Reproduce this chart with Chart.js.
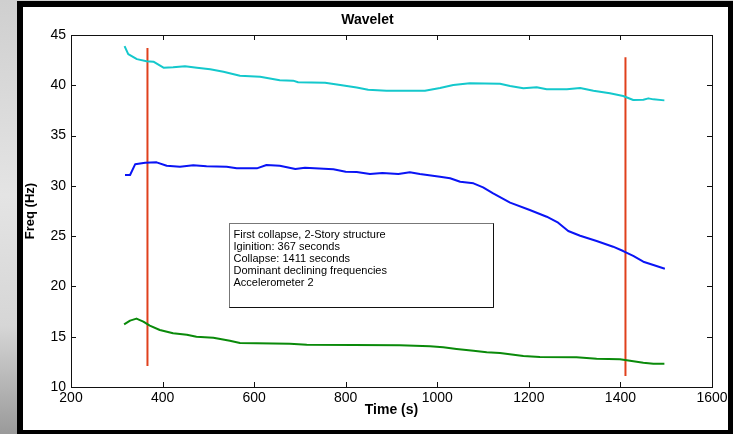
<!DOCTYPE html>
<html>
<head>
<meta charset="utf-8">
<script src="https://cdn.jsdelivr.net/npm/chart.js@4/dist/chart.umd.min.js"></script>
<style>
    html, body { margin: 0; padding: 0; width: 733px; height: 434px; overflow: hidden; }
    body { background: linear-gradient(180deg, #cfcfcf 0%, #e4e4e4 45%, #d6d6d6 75%, #9a9a9a 100%); }
    #frame { position: absolute; left: 17px; top: 1px; width: 716px; height: 433px; background: #000; }
    #paper { position: absolute; left: 23px; top: 7px; width: 705px; height: 423px; background: #fff; }
    #wrap { position: absolute; left: 0; top: 0; width: 733px; height: 434px; }
</style>
</head>
<body>
<div id="frame"></div>
<div id="paper"></div>
<div id="wrap"><canvas id="myChart" width="733" height="434"></canvas></div>
<script>
// values
const cyanTime = [317, 325, 344, 365, 380, 402, 423, 449, 475, 504, 533, 569, 613, 656, 685, 696, 755, 788, 824, 849, 889, 973, 1006, 1035, 1071, 1137, 1159, 1188, 1217, 1239, 1283, 1312, 1341, 1377, 1406, 1428, 1450, 1461, 1472, 1496];
const cyanFreq = [43.9, 43.1, 42.6, 42.4, 42.35, 41.75, 41.8, 41.9, 41.75, 41.6, 41.35, 40.95, 40.85, 40.5, 40.46, 40.3, 40.26, 40.03, 39.77, 39.56, 39.46, 39.46, 39.73, 40.03, 40.2, 40.15, 39.93, 39.7, 39.8, 39.6, 39.6, 39.73, 39.46, 39.2, 38.93, 38.54, 38.57, 38.7, 38.6, 38.5];

const blueTime = [318, 329, 340, 362, 387, 409, 438, 467, 496, 540, 562, 606, 627, 656, 690, 711, 773, 800, 824, 853, 880, 915, 940, 962, 1006, 1028, 1050, 1079, 1100, 1122, 1159, 1202, 1239, 1264, 1286, 1312, 1348, 1384, 1406, 1428, 1450, 1472, 1497];
const blueFreq = [31.08, 31.08, 32.14, 32.3, 32.34, 32.0, 31.9, 32.04, 31.94, 31.9, 31.74, 31.74, 32.07, 32.0, 31.68, 31.79, 31.65, 31.41, 31.38, 31.18, 31.28, 31.18, 31.35, 31.18, 30.91, 30.75, 30.41, 30.25, 29.85, 29.26, 28.33, 27.6, 26.93, 26.34, 25.51, 25.04, 24.52, 23.95, 23.52, 23.03, 22.46, 22.13, 21.76];

const greenTime = [316, 329, 343, 358, 372, 394, 423, 453, 474, 511, 547, 569, 678, 715, 918, 984, 1013, 1042, 1079, 1108, 1137, 1188, 1224, 1304, 1348, 1399, 1421, 1450, 1472, 1496];
const greenFreq = [16.23, 16.6, 16.8, 16.5, 16.1, 15.67, 15.34, 15.2, 15.0, 14.9, 14.6, 14.38, 14.3, 14.2, 14.14, 14.04, 13.95, 13.78, 13.6, 13.45, 13.37, 13.08, 12.98, 12.95, 12.81, 12.75, 12.6, 12.4, 12.3, 12.3];

const ignitionTime = 367;
const ignitionSpan = [12.1, 43.7];
const collapseTime = 1411;
const collapseSpan = [11.1, 42.8];

const xTicks = [200, 400, 600, 800, 1000, 1200, 1400, 1600];
const yTicks = [10, 15, 20, 25, 30, 35, 40, 45];

const noteLines = [
    'First collapse, 2-Story structure',
    'Iginition: 367 seconds',
    'Collapse: 1411 seconds',
    'Dominant declining frequencies',
    'Accelerometer 2'
];

const FONT = '"Liberation Sans", Arial, Helvetica, sans-serif';

function pts(xs, ys) {
    return xs.map(function (x, i) { return { x: x, y: ys[i] }; });
}

function line(data, color) {
    return {
        data: data,
        borderColor: color,
        borderWidth: 2,
        pointRadius: 0,
        tension: 0,
        fill: false,
        borderJoinStyle: 'round'
    };
}

// box round the plot, inward ticks on all four sides, and the text box
const matlabBox = {
    id: 'matlabBox',
    afterDatasetsDraw: function (chart) {
        const ctx = chart.ctx;
        const a = chart.chartArea;
        const xs = chart.scales.x, ys = chart.scales.y;
        const tl = 5;
        ctx.save();
        ctx.strokeStyle = '#111';
        ctx.lineWidth = 1;
        ctx.beginPath();
        xTicks.forEach(function (t) {
            const px = Math.round(xs.getPixelForValue(t)) + 0.5;
            ctx.moveTo(px, a.bottom); ctx.lineTo(px, a.bottom - tl);
            ctx.moveTo(px, a.top); ctx.lineTo(px, a.top + tl);
        });
        yTicks.forEach(function (t) {
            const py = Math.round(ys.getPixelForValue(t)) + 0.5;
            ctx.moveTo(a.left, py); ctx.lineTo(a.left + tl, py);
            ctx.moveTo(a.right, py); ctx.lineTo(a.right - tl, py);
        });
        ctx.stroke();
        ctx.strokeRect(Math.round(a.left) + 0.5, Math.round(a.top) + 0.5,
            Math.round(a.right - a.left), Math.round(a.bottom - a.top));

        // annotation box
        const bx = Math.round(a.left + 158) + 0.5;
        const by = Math.round(a.top + 188) + 0.5;
        const bw = 264, bh = 84;
        ctx.fillStyle = '#fff';
        ctx.fillRect(bx, by, bw, bh);
        ctx.strokeStyle = '#777';
        ctx.strokeRect(bx, by, bw, bh);
        ctx.strokeStyle = '#111';
        ctx.beginPath();
        ctx.moveTo(bx + bw, by); ctx.lineTo(bx + bw, by + bh); ctx.lineTo(bx, by + bh);
        ctx.stroke();
        ctx.fillStyle = '#000';
        ctx.font = '11px ' + FONT;
        ctx.textBaseline = 'middle';
        ctx.textAlign = 'left';
        noteLines.forEach(function (s, i) {
            ctx.fillText(s, bx + 4, by + 11 + i * 12.2);
        });
        ctx.restore();
    }
};

const data = {
    datasets: [
        line(pts(cyanTime, cyanFreq), '#14c8cc'),
        line(pts(blueTime, blueFreq), '#0a14f5'),
        line(pts(greenTime, greenFreq), '#0a8a0a'),
        line(pts([ignitionTime, ignitionTime], ignitionSpan), '#e0401c'),
        line(pts([collapseTime, collapseTime], collapseSpan), '#e0401c')
    ]
};

var myChart = new Chart('myChart', {
    type: 'line',
    data: data,
    options: {
        responsive: false,
        animation: false,
        layout: { padding: { left: 23, right: 21, top: 12, bottom: 15 } },
        plugins: {
            legend: { display: false },
            tooltip: { enabled: false },
            title: {
                display: true,
                text: 'Wavelet',
                color: '#000',
                font: { family: FONT, size: 14, weight: 'bold', lineHeight: 1.2 },
                padding: { top: 0, bottom: 6.2 }
            }
        },
        scales: {
            x: {
                type: 'linear',
                min: 200,
                max: 1600,
                afterBuildTicks: function (s) { s.ticks = xTicks.map(function (v) { return { value: v }; }); },
                afterFit: function (s) { s.height = 32; s.paddingLeft = 0; s.paddingRight = 0; },
                grid: { display: false, drawTicks: false },
                border: { display: false },
                ticks: {
                    color: '#000', padding: 3, maxRotation: 0, autoSkip: false,
                    font: { family: FONT, size: 14 },
                    callback: function (v) { return String(v); }
                },
                title: {
                    display: true,
                    text: 'Time (s)',
                    color: '#000',
                    padding: 0,
                    font: { family: FONT, size: 14, weight: 'bold', lineHeight: 1.2 }
                }
            },
            y: {
                type: 'linear',
                min: 10,
                max: 45,
                afterBuildTicks: function (s) { s.ticks = yTicks.map(function (v) { return { value: v }; }); },
                afterFit: function (s) { s.width = 48; s.paddingTop = 0; s.paddingBottom = 0; },
                grid: { display: false, drawTicks: false },
                border: { display: false },
                ticks: {
                    color: '#000', padding: 5, autoSkip: false,
                    font: { family: FONT, size: 14 },
                    callback: function (v) { return String(v); }
                },
                title: {
                    display: true,
                    text: 'Freq (Hz)',
                    color: '#000',
                    padding: 0,
                    font: { family: FONT, size: 13, weight: 'bold', lineHeight: 1.2 }
                }
            }
        }
    },
    plugins: [matlabBox]
});
</script>
</body>
</html>
